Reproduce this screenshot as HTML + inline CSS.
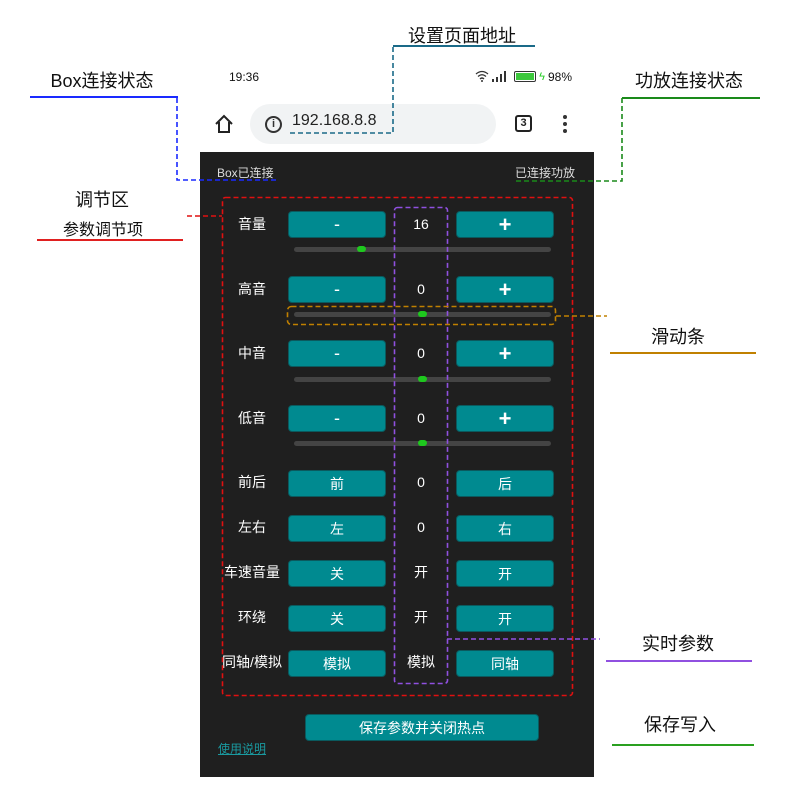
<!DOCTYPE html>
<html><head><meta charset="utf-8"><style>
*{margin:0;padding:0;box-sizing:border-box}
body{width:800px;height:800px;background:#fff;position:relative;overflow:hidden;font-family:"Liberation Sans","Noto Sans CJK SC",sans-serif}
.a{position:absolute}
.t{position:absolute;white-space:nowrap;transform:translate(-50%,-50%)}
.btn{position:absolute;background:#008a90;border:1px solid #0a5a5e;border-radius:4px;color:#fff;font-size:14px;display:flex;align-items:center;justify-content:center}
.lbl{position:absolute;color:#fff;font-size:14px;transform:translate(-50%,-50%);white-space:nowrap}
.val{position:absolute;color:#fff;font-size:14px;transform:translate(-50%,-50%);white-space:nowrap}
.sl{position:absolute;left:294px;width:257px;height:5px;background:#444;border-radius:3px}
.th{position:absolute;width:9px;height:6px;background:#1ec81e;border-radius:3px;top:-1px}
</style></head><body>
<!-- annotations -->
<div class="t" style="left:462px;top:35px;font-size:18px;color:#111">设置页面地址</div>
<div class="a" style="left:393px;top:45px;width:142px;height:2px;background:#1a6a88"></div>
<div class="t" style="left:102px;top:80px;font-size:18px;color:#111">Box连接状态</div>
<div class="a" style="left:30px;top:96px;width:148px;height:2px;background:#1a2aff"></div>
<div class="t" style="left:689px;top:80px;font-size:18px;color:#111">功放连接状态</div>
<div class="a" style="left:622px;top:97px;width:138px;height:2px;background:#1a8a1a"></div>
<div class="t" style="left:102px;top:199px;font-size:18px;color:#111">调节区</div>
<div class="t" style="left:103px;top:228px;font-size:16px;color:#111">参数调节项</div>
<div class="a" style="left:37px;top:239px;width:146px;height:2px;background:#e02020"></div>
<div class="t" style="left:678px;top:336px;font-size:18px;color:#111">滑动条</div>
<div class="a" style="left:610px;top:352px;width:146px;height:2px;background:#c08000"></div>
<div class="t" style="left:678px;top:643px;font-size:18px;color:#111">实时参数</div>
<div class="a" style="left:606px;top:660px;width:146px;height:2px;background:#9050e0"></div>
<div class="t" style="left:680px;top:724px;font-size:18px;color:#111">保存写入</div>
<div class="a" style="left:612px;top:744px;width:142px;height:2px;background:#2aa020"></div>

<!-- status bar -->
<div class="t" style="left:244px;top:77px;font-size:12px;color:#111">19:36</div>
<svg class="a" style="left:475px;top:70px" width="36" height="12" viewBox="0 0 36 12"><path d="M1 4 Q7 -1 13 4 M3 6.5 Q7 3 11 6.5 M5 9 Q7 7 9 9" fill="none" stroke="#333" stroke-width="1.3"/><circle cx="7" cy="11" r="1" fill="#333"/><rect x="21" y="7" width="2" height="5" fill="#333"/><rect x="25" y="4" width="2" height="8" fill="#333"/><rect x="29" y="1" width="2" height="11" fill="#333"/><rect x="17" y="9" width="2" height="3" fill="#333"/></svg>
<div class="a" style="left:514px;top:71px;width:22px;height:11px;border:1.5px solid #333;border-radius:2px;padding:1px"><div style="width:100%;height:100%;background:#3cc83c"></div></div>
<div class="t" style="left:542px;top:77px;font-size:11px;color:#2c2">ϟ</div>
<div class="t" style="left:560px;top:77px;font-size:12px;color:#111">98%</div>

<!-- browser bar -->
<svg class="a" style="left:213px;top:113px" width="22" height="22" viewBox="0 0 22 22"><path d="M3 11 L11 3 L19 11 M6 9 V19 H16 V9" fill="none" stroke="#222" stroke-width="2"/></svg>
<div class="a" style="left:250px;top:104px;width:246px;height:40px;background:#f1f3f4;border-radius:20px"></div>
<div class="a" style="left:265px;top:116px;width:17px;height:17px;border:2px solid #333;border-radius:50%;font-size:11px;font-weight:bold;text-align:center;line-height:13px;color:#333">i</div>
<div class="a" style="left:292px;top:112px;font-size:16px;color:#222">192.168.8.8</div>
<div class="a" style="left:515px;top:115px;width:17px;height:17px;border:2px solid #222;border-radius:3px;font-size:11px;text-align:center;line-height:13px;color:#222;font-weight:bold">3</div>
<div class="a" style="left:563px;top:115px;width:4px;height:4px;background:#333;border-radius:50%"></div>
<div class="a" style="left:563px;top:122px;width:4px;height:4px;background:#333;border-radius:50%"></div>
<div class="a" style="left:563px;top:129px;width:4px;height:4px;background:#333;border-radius:50%"></div>

<!-- panel -->
<div class="a" style="left:200px;top:152px;width:394px;height:625px;background:#1f1f1f"></div>
<div class="a" style="left:217px;top:164px;font-size:12px;color:#ddd">Box已连接</div>
<div class="a" style="left:515px;top:164px;font-size:12px;color:#ddd">已连接功放</div>

<!-- rows -->
<div class="lbl" style="left:252px;top:224px">音量</div>
<div class="btn" style="left:288px;top:211px;width:98px;height:27px;font-size:18px">-</div>
<div class="val" style="left:421px;top:224px">16</div>
<div class="btn" style="left:456px;top:211px;width:98px;height:27px;font-size:22px;font-weight:bold">+</div>
<div class="sl" style="top:247px"><div class="th" style="left:63px"></div></div>

<div class="lbl" style="left:252px;top:289px">高音</div>
<div class="btn" style="left:288px;top:276px;width:98px;height:27px;font-size:18px">-</div>
<div class="val" style="left:421px;top:289px">0</div>
<div class="btn" style="left:456px;top:276px;width:98px;height:27px;font-size:22px;font-weight:bold">+</div>
<div class="sl" style="top:312px"><div class="th" style="left:124px"></div></div>

<div class="lbl" style="left:252px;top:353px">中音</div>
<div class="btn" style="left:288px;top:340px;width:98px;height:27px;font-size:18px">-</div>
<div class="val" style="left:421px;top:353px">0</div>
<div class="btn" style="left:456px;top:340px;width:98px;height:27px;font-size:22px;font-weight:bold">+</div>
<div class="sl" style="top:377px"><div class="th" style="left:124px"></div></div>

<div class="lbl" style="left:252px;top:418px">低音</div>
<div class="btn" style="left:288px;top:405px;width:98px;height:27px;font-size:18px">-</div>
<div class="val" style="left:421px;top:418px">0</div>
<div class="btn" style="left:456px;top:405px;width:98px;height:27px;font-size:22px;font-weight:bold">+</div>
<div class="sl" style="top:441px"><div class="th" style="left:124px"></div></div>

<div class="lbl" style="left:252px;top:482px">前后</div>
<div class="btn" style="left:288px;top:470px;width:98px;height:27px">前</div>
<div class="val" style="left:421px;top:482px">0</div>
<div class="btn" style="left:456px;top:470px;width:98px;height:27px">后</div>

<div class="lbl" style="left:252px;top:527px">左右</div>
<div class="btn" style="left:288px;top:515px;width:98px;height:27px">左</div>
<div class="val" style="left:421px;top:527px">0</div>
<div class="btn" style="left:456px;top:515px;width:98px;height:27px">右</div>

<div class="lbl" style="left:252px;top:572px">车速音量</div>
<div class="btn" style="left:288px;top:560px;width:98px;height:27px">关</div>
<div class="val" style="left:421px;top:572px">开</div>
<div class="btn" style="left:456px;top:560px;width:98px;height:27px">开</div>

<div class="lbl" style="left:252px;top:617px">环绕</div>
<div class="btn" style="left:288px;top:605px;width:98px;height:27px">关</div>
<div class="val" style="left:421px;top:617px">开</div>
<div class="btn" style="left:456px;top:605px;width:98px;height:27px">开</div>

<div class="lbl" style="left:252px;top:662px">同轴/模拟</div>
<div class="btn" style="left:288px;top:650px;width:98px;height:27px">模拟</div>
<div class="val" style="left:421px;top:662px">模拟</div>
<div class="btn" style="left:456px;top:650px;width:98px;height:27px">同轴</div>

<div class="btn" style="left:305px;top:714px;width:234px;height:27px">保存参数并关闭热点</div>
<div class="a" style="left:218px;top:740px;font-size:12px;color:#1a9aa0;text-decoration:underline">使用说明</div>

<!-- dashed lines overlay -->
<svg class="a" style="left:0;top:0" width="800" height="800" fill="none" stroke-width="1.6" stroke-dasharray="5,3">
<path d="M393 47 V133 H290" stroke="#1a6a88"/>
<path d="M177 98 V180 H279" stroke="#1a2aff"/>
<path d="M622 98 V181 H515" stroke="#1a8a1a"/>
<path d="M187 216 H222" stroke="#e01010"/>
<rect x="222.5" y="197.5" width="350" height="498" rx="3" stroke="#e01010"/>
<rect x="394.5" y="207.5" width="53" height="476" rx="3" stroke="#9050e0"/>
<path d="M447 639 H600" stroke="#9050e0"/>
<rect x="287.5" y="306.5" width="268" height="18" rx="4" stroke="#c08000"/>
<path d="M556 316 H607" stroke="#c08000"/>
</svg>
</body></html>
